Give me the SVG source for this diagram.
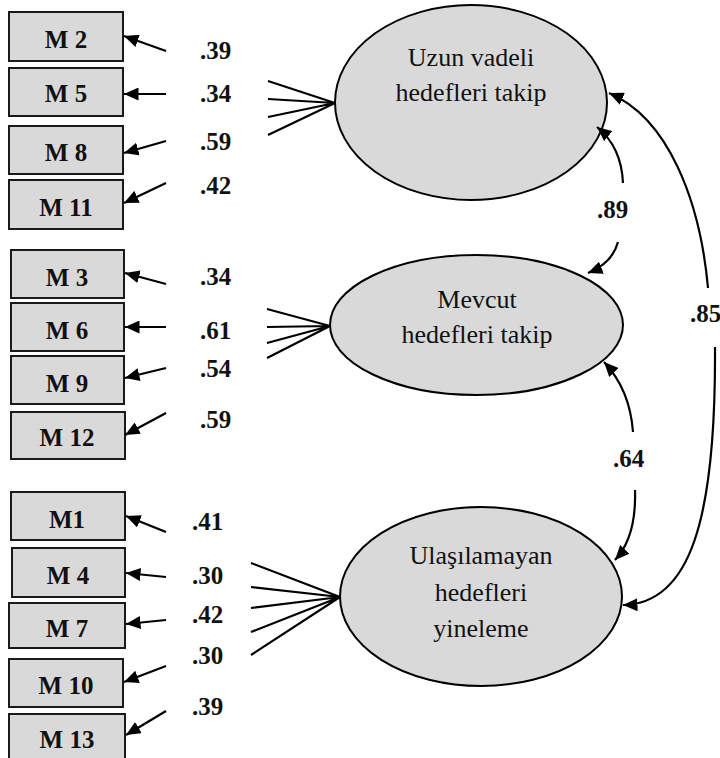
<svg xmlns="http://www.w3.org/2000/svg" width="720" height="758" viewBox="0 0 720 758">
<style>
.box{fill:#d9d9d9;stroke:#1a1a1a;stroke-width:2}
.lat{fill:#d9d9d9;stroke:#000;stroke-width:2}
.bt{font-weight:bold;font-size:25px;fill:#111;text-anchor:middle}
.lt{font-size:26px;fill:#111;text-anchor:middle}
.val{font-weight:bold;font-size:25px;fill:#111}
.ar{fill:none;stroke:#000;stroke-width:2.2;marker-end:url(#ah)}
.ln{fill:none;stroke:#000;stroke-width:2.2}
</style>
<defs>
<marker id="ah" markerUnits="userSpaceOnUse" markerWidth="15" markerHeight="13" refX="14.5" refY="6.5" orient="auto">
<path d="M0,0 L14.5,6.5 L0,13 z" fill="#000"/>
</marker>
</defs>
<rect width="720" height="758" fill="#fff"/>
<g font-family="'Liberation Serif', 'DejaVu Serif', serif">
<g id="M2"><rect class="box" x="9" y="12" width="114" height="49"/><text class="bt" x="66" y="48">M 2</text></g>
<g id="M5"><rect class="box" x="9" y="68" width="114" height="48"/><text class="bt" x="66" y="102">M 5</text></g>
<g id="M8"><rect class="box" x="9" y="126" width="114" height="48"/><text class="bt" x="66" y="161">M 8</text></g>
<g id="M11"><rect class="box" x="9" y="180" width="114" height="49"/><text class="bt" x="66" y="216">M 11</text></g>
<g id="M3"><rect class="box" x="11" y="250" width="113" height="48"/><text class="bt" x="67" y="286">M 3</text></g>
<g id="M6"><rect class="box" x="11" y="303" width="113" height="48"/><text class="bt" x="67" y="339">M 6</text></g>
<g id="M9"><rect class="box" x="11" y="356" width="113" height="48"/><text class="bt" x="67" y="392">M 9</text></g>
<g id="M12"><rect class="box" x="11" y="412" width="114" height="47"/><text class="bt" x="67" y="446">M 12</text></g>
<g id="M1"><rect class="box" x="11" y="492" width="114" height="48"/><text class="bt" x="67" y="528">M1</text></g>
<g id="M4"><rect class="box" x="12" y="548" width="113" height="49"/><text class="bt" x="68" y="584">M 4</text></g>
<g id="M7"><rect class="box" x="9" y="603" width="116" height="45"/><text class="bt" x="67" y="637">M 7</text></g>
<g id="M10"><rect class="box" x="9" y="659" width="114" height="48"/><text class="bt" x="66" y="694">M 10</text></g>
<g id="M13"><rect class="box" x="9" y="714" width="116" height="48"/><text class="bt" x="67" y="748">M 13</text></g>

<g id="F1"><ellipse class="lat" cx="471" cy="102.5" rx="136" ry="97.5"/><text class="lt" x="471" y="66">Uzun vadeli</text><text class="lt" x="471" y="101">hedefleri takip</text></g>
<g id="F2"><ellipse class="lat" cx="476.5" cy="325" rx="146.5" ry="70"/><text class="lt" x="477" y="308">Mevcut</text><text class="lt" x="477" y="343">hedefleri takip</text></g>
<g id="F3"><ellipse class="lat" cx="481" cy="596.5" rx="141" ry="89.5"/><text class="lt" x="481" y="564">Ulaşılamayan</text><text class="lt" x="481" y="601">hedefleri</text><text class="lt" x="481" y="637">yineleme</text></g>

<g id="connectors">
<path class="ar" d="M166,51 L124,36"/>
<path class="ar" d="M166,94 L124,94"/>
<path class="ar" d="M166,141 L124,153"/>
<path class="ar" d="M166,183 L124,203"/>
<path class="ar" d="M166,284 L125,273"/>
<path class="ar" d="M166,327 L125,327"/>
<path class="ar" d="M166,368 L125,378"/>
<path class="ar" d="M166,413 L125,435"/>
<path class="ar" d="M166,532 L126,516"/>
<path class="ar" d="M166,577 L126,573"/>
<path class="ar" d="M166,620 L126,624"/>
<path class="ar" d="M166,666 L124,682"/>
<path class="ar" d="M166,711 L126,735"/>

<path class="ln" d="M268,81 L335,103 M268,99 L335,103 M268,117 L335,103 M268,135 L335,103"/>
<path class="ln" d="M267,309 L330,326 M267,327 L330,326 M267,343 L330,326 M267,358 L330,326"/>
<path class="ln" d="M251,563 L340,597 M251,587 L340,597 M251,608 L340,597 M251,632 L340,597 M251,655 L340,597"/>

<path class="ar" d="M623,183 C622,160 613,140 597,127"/>
<path class="ar" d="M618,242 C614,257 603,267 588,273"/>
<path class="ar" d="M633,432 C631,405 621,380 604,362"/>
<path class="ar" d="M635,490 C636,520 629,545 615,560"/>
<path class="ar" d="M708,288 C700,200 668,118 609,93"/>
<path class="ar" d="M715,347 C716,520 690,604 623,605"/>
</g>

<g id="labels">
<text class="val" x="200" y="59">.39</text>
<text class="val" x="200" y="102">.34</text>
<text class="val" x="200" y="150">.59</text>
<text class="val" x="200" y="194">.42</text>
<text class="val" x="200" y="285">.34</text>
<text class="val" x="200" y="339">.61</text>
<text class="val" x="200" y="377">.54</text>
<text class="val" x="200" y="428">.59</text>
<text class="val" x="192" y="530">.41</text>
<text class="val" x="192" y="584">.30</text>
<text class="val" x="192" y="623">.42</text>
<text class="val" x="192" y="664">.30</text>
<text class="val" x="192" y="715">.39</text>
<text class="val" x="597" y="218">.89</text>
<text class="val" x="690" y="322">.85</text>
<text class="val" x="613" y="467">.64</text>
</g>
</g>
</svg>
